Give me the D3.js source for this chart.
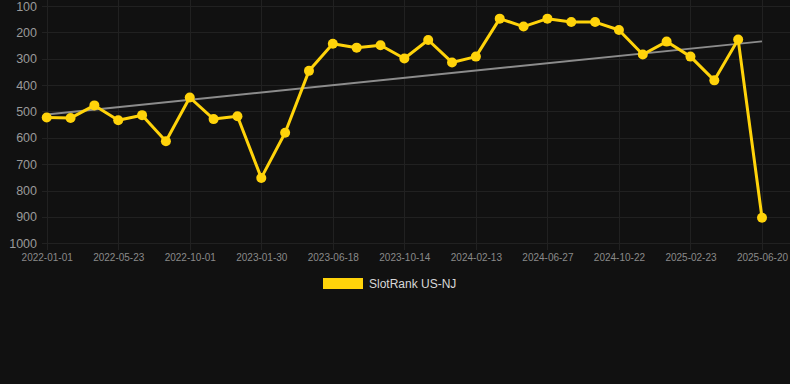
<!DOCTYPE html>
<html>

<head>
    <meta charset="utf-8">
    <title>SlotRank US-NJ</title>
    <script type="text/javascript" src="https://d3js.org/d3.v7.min.js"></script>

    <style>
        html, body {
            margin: 0;
            padding: 0;
            background: #111111;
        }

        svg {
            display: block;
            font-family: "Liberation Sans", Arial, sans-serif;
        }

        .grid line {
            stroke: #212121;
            stroke-width: 1;
        }
    </style>

</head>

<body>
</body>

<script type="text/javascript">
    //Width and height
    var w = 790;
    var h = 384;

    //Dates of each point (every third one is labelled on the axis)
    var dates = [
        "2022-01-01", "2022-02-17", "2022-04-05",
        "2022-05-23", "2022-07-05", "2022-08-18",
        "2022-10-01", "2022-11-10", "2022-12-20",
        "2023-01-30", "2023-03-17", "2023-05-02",
        "2023-06-18", "2023-08-06", "2023-08-27",
        "2023-10-14", "2023-11-23", "2024-01-03",
        "2024-02-13", "2024-03-29", "2024-05-13",
        "2024-06-27", "2024-08-04", "2024-09-13",
        "2024-10-22", "2024-12-04", "2025-01-13",
        "2025-02-23", "2025-04-02", "2025-05-11",
        "2025-06-20"
    ];

    //Rank values (lower is better)
    var ranks = [
        523, 525, 477, 533, 514, 613, 447, 529, 518, 752,
        581, 346, 243, 258, 249, 299, 229, 314, 292, 148,
        178, 148, 161, 161, 191, 284, 235, 292, 382, 227,
        903
    ];

    var yTicks = [100, 200, 300, 400, 500, 600, 700, 800, 900, 1000];
    var seriesName = "SlotRank US-NJ";
    var yellow = "#ffd30a";

    var xLabels = dates.filter(function(d, i) {
        return i % 3 === 0;
    });

    //Scales
    var x = d3.scalePoint()
        .domain(dates)
        .range([46.7, 762]);

    var y = d3.scaleLinear()
        .domain([100, 1000])
        .range([6, 243.3]);

    //Create SVG element
    var svg = d3.select("body")
        .append("svg")
        .attr("width", w)
        .attr("height", h);

    //Horizontal grid
    svg.append("g")
        .attr("class", "grid")
        .selectAll("line")
        .data(yTicks)
        .enter()
        .append("line")
        .attr("x1", 42)
        .attr("x2", w)
        .attr("y1", function(d) { return Math.round(y(d)) + 0.5; })
        .attr("y2", function(d) { return Math.round(y(d)) + 0.5; });

    //Vertical grid
    svg.append("g")
        .attr("class", "grid")
        .selectAll("line")
        .data(xLabels)
        .enter()
        .append("line")
        .attr("x1", function(d) { return Math.round(x(d)) + 0.5; })
        .attr("x2", function(d) { return Math.round(x(d)) + 0.5; })
        .attr("y1", 0)
        .attr("y2", 250);

    //Y axis
    var yAxis = svg.append("g")
        .attr("transform", "translate(37,0)")
        .call(d3.axisLeft(y).tickValues(yTicks).tickFormat(d3.format("d"))
            .tickSize(0).tickPadding(0));
    yAxis.select(".domain").remove();
    yAxis.selectAll("text")
        .attr("fill", "#9a9a9a")
        .style("font-size", "12.5px");

    //X axis
    var xAxis = svg.append("g")
        .attr("transform", "translate(0,251)")
        .call(d3.axisBottom(x).tickValues(xLabels).tickSize(0).tickPadding(3));
    xAxis.select(".domain").remove();
    xAxis.selectAll("text")
        .attr("fill", "#8a8a8a")
        .style("font-size", "10px");

    //Trend line (least squares on the index)
    var n = ranks.length;
    var mx = d3.mean(ranks, function(d, i) { return i; });
    var my = d3.mean(ranks);
    var sxy = d3.sum(ranks, function(d, i) { return (i - mx) * (d - my); });
    var sxx = d3.sum(ranks, function(d, i) { return (i - mx) * (i - mx); });
    var slope = sxy / sxx;
    var trend = [0, n - 1].map(function(i) {
        return { date: dates[i], value: my + slope * (i - mx) };
    });

    svg.append("path")
        .datum(trend)
        .attr("fill", "none")
        .attr("stroke", "#8c8c8c")
        .attr("stroke-width", 2)
        .attr("d", d3.line()
            .x(function(d) { return x(d.date); })
            .y(function(d) { return y(d.value); }));

    //Series line
    svg.append("path")
        .datum(ranks)
        .attr("fill", "none")
        .attr("stroke", yellow)
        .attr("stroke-width", 3)
        .attr("stroke-linejoin", "round")
        .attr("d", d3.line()
            .x(function(d, i) { return x(dates[i]); })
            .y(function(d) { return y(d); }));

    //Points
    svg.selectAll("circle.pt")
        .data(ranks)
        .enter()
        .append("circle")
        .attr("class", "pt")
        .attr("cx", function(d, i) { return x(dates[i]); })
        .attr("cy", function(d) { return y(d); })
        .attr("r", 5)
        .attr("fill", yellow);

    //Legend
    var legend = svg.append("g")
        .attr("transform", "translate(323,278)");
    legend.append("rect")
        .attr("width", 40)
        .attr("height", 11)
        .attr("fill", yellow);
    legend.append("text")
        .attr("x", 46)
        .attr("y", 10)
        .attr("fill", "#d8d8d8")
        .style("font-size", "12px")
        .text(seriesName);
</script>

</html>
